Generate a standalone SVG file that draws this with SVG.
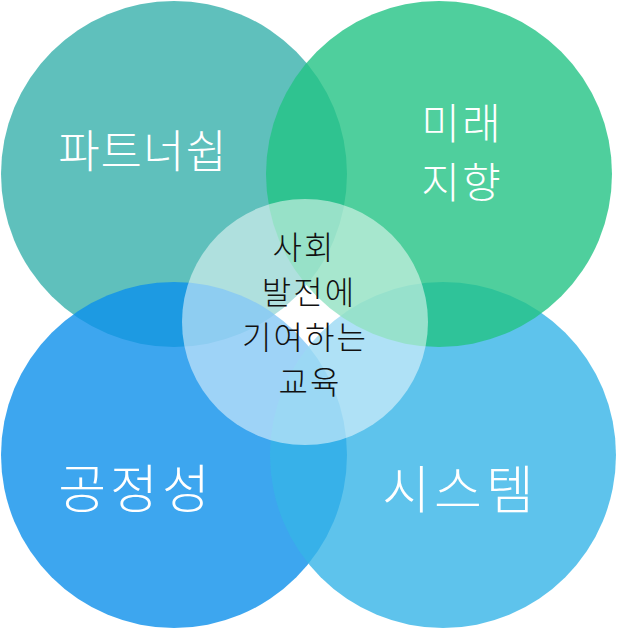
<svg xmlns="http://www.w3.org/2000/svg" width="617" height="628" viewBox="0 0 617 628">
<style>
.c{opacity:0.8}
.w{fill:#ffffff;font-family:"Noto Sans CJK KR","Noto Sans",sans-serif;text-anchor:middle;font-weight:300}
.k{fill:#111111;font-family:"Noto Sans CJK KR","Noto Sans",sans-serif;text-anchor:middle;font-size:32px;letter-spacing:2px;font-weight:300}
</style>
<rect width="617" height="628" fill="#ffffff"/>
<g id="partnership">
<circle class="c" cx="174" cy="174" r="173" fill="#37B0AB"/>
</g>
<g id="fairness">
<circle class="c" cx="174" cy="455" r="173" fill="#0D90EB"/>
</g>
<g id="system">
<circle class="c" cx="443" cy="455" r="173" fill="#36B4E7"/>
</g>
<g id="future">
<circle class="c" cx="439" cy="174" r="173" fill="#23C384"/>
</g>
<g id="center">
<circle cx="305" cy="322" r="123" fill="#ffffff" opacity="0.5"/>
</g>
<g id="connectors"></g>
<g id="labels">
<text class="w" x="143" y="168" font-size="45" letter-spacing="1">파트너쉽</text>
<text class="w" x="462" y="139" font-size="42" letter-spacing="2">미래</text>
<text class="w" x="462" y="198" font-size="42" letter-spacing="2">지향</text>
<text class="w" x="136" y="508" font-size="52" letter-spacing="4">공정성</text>
<text class="w" x="460" y="509" font-size="52" letter-spacing="4">시스템</text>
<text class="k" x="304" y="259">사회</text>
<text class="k" x="309" y="304">발전에</text>
<text class="k" x="305" y="349">기여하는</text>
<text class="k" x="310" y="394">교육</text>
</g>
</svg>
